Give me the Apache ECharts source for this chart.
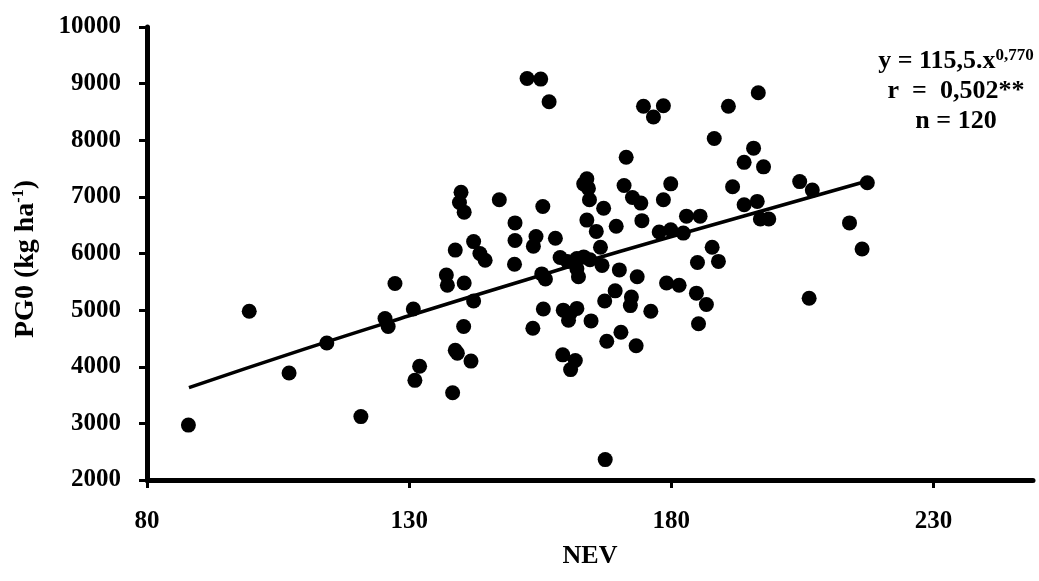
<!doctype html>
<html><head><meta charset="utf-8" />
<style>
  html,body,#app{margin:0;padding:0;width:1039px;height:581px;background:#ffffff}
</style>
</head><body><div id="app"></div>
<script src="https://cdn.jsdelivr.net/npm/echarts@6/dist/echarts.min.js"></script>
<script>
// NEV (x) and PG0 kg/ha (y), one entry per point
const nev = [
  152.5,155.1,156.7,174.7,178.5,176.6,196.6,190.9,188.2,195.7,
  193.9,197.6,171.4,171.0,179.9,191.7,204.5,206.9,217.4,214.0,
  216.4,193.9,196.4,197.0,198.6,206.3,163.9,163.3,164.2,164.4,
  167.1,163.9,165.7,169.5,166.5,172.6,174.2,178.5,174.4,182.9,
  185.5,177.7,179.9,182.3,187.8,139.9,139.6,140.5,147.2,155.5,
  150.2,150.2,142.3,154.2,153.7,157.9,138.8,143.5,144.5,150.1,
  158.8,160.2,162.0,163.3,164.5,162.0,162.3,166.8,155.3,156.0,
  137.1,137.3,140.5,142.3,130.8,155.6,159.4,162.0,160.7,160.4,
  167.3,170.1,173.5,185.0,189.0,179.1,181.5,184.8,186.7,169.3,
  172.4,172.2,176.1,185.2,153.6,164.7,170.4,167.7,173.3,159.3,
  161.7,160.8,167.4,140.4,138.8,139.2,141.8,138.3,87.9,99.5,
  107.1,114.3,120.8,125.4,126.0,127.3,132.0,131.1
];
const pg0 = [
  9090,9080,8680,8600,8610,8410,8840,8600,8030,7860,
  7610,7530,7700,7200,7230,7180,7270,7120,7250,6540,
  6080,6860,6920,6610,6610,5210,7320,7230,7150,6950,
  6800,6590,6390,6480,6110,6990,6890,6950,6580,6660,
  6660,6380,6420,6360,6110,7080,6900,6730,6950,6830,
  6540,6230,6210,6300,6130,6270,6060,6000,5880,5810,
  5930,5860,5910,5940,5890,5730,5590,5790,5640,5550,
  5620,5440,5480,5160,5020,5020,5000,5030,4940,4820,
  5160,5710,5590,5840,5860,5480,5440,5300,5100,5340,
  5230,5080,4980,4760,4680,4810,4610,4450,4370,4210,
  4110,3950,2360,4710,4290,4240,4100,3540,2970,4980,
  3890,4420,3120,4850,4710,5470,4010,3760
];
// fitted power curve
const trendX = [88, 110, 130, 150, 170, 190, 217.4];
const trendY = [3630, 4310, 4900, 5470, 6030, 6560, 7280];
const xTicks = [80, 130, 180, 230];

const font = 'Liberation Serif, Times New Roman, serif';
const chart = echarts.init(document.getElementById('app'));
const axisLine = { lineStyle: { color: '#000', width: 5 } };
const axisTick = { lineStyle: { color: '#000', width: 3 }, length: 8 };
const labelStyle = { color: '#000', fontFamily: font, fontWeight: 'bold', fontSize: 25 };
chart.setOption({
  animation: false,
  backgroundColor: '#ffffff',
  grid: { left: 147, right: 6, top: 27, bottom: 101 },
  xAxis: {
    type: 'value', min: 80, max: 249,
    name: 'NEV', nameLocation: 'middle', nameGap: 63,
    nameTextStyle: { color: '#000', fontFamily: font, fontWeight: 'bold', fontSize: 26 },
    axisLine: axisLine,
    axisTick: Object.assign({ customValues: xTicks }, axisTick),
    axisLabel: Object.assign({ customValues: xTicks, margin: 29, formatter: v => String(v) }, labelStyle),
    splitLine: { show: false }
  },
  yAxis: {
    type: 'value', min: 2000, max: 10000, interval: 1000,
    axisLine: axisLine,
    axisTick: axisTick,
    axisLabel: Object.assign({ margin: 26, formatter: v => String(v) }, labelStyle),
    splitLine: { show: false }
  },
  graphic: [
    {
      type: 'text', x: 26, y: 259, rotation: Math.PI / 2,
      style: {
        text: '{a|PG0 (kg ha}{s|-1}{a|)}', align: 'center', verticalAlign: 'middle',
        rich: {
          a: { fontFamily: font, fontWeight: 'bold', fontSize: 28, lineHeight: 30, fill: '#000' },
          s: { fontFamily: font, fontWeight: 'bold', fontSize: 16, lineHeight: 30, verticalAlign: 'top', fill: '#000' }
        }
      }
    },
    {
      type: 'text', x: 956, y: 61,
      style: {
        text: '{m|y = 115,5.x}{s|0,770}', align: 'center', verticalAlign: 'middle',
        rich: {
          m: { fontFamily: font, fontWeight: 'bold', fontSize: 26, lineHeight: 28, fill: '#000' },
          s: { fontFamily: font, fontWeight: 'bold', fontSize: 17, lineHeight: 28, verticalAlign: 'top', fill: '#000' }
        }
      }
    },
    {
      type: 'text', x: 956, y: 91,
      style: { text: 'r  =  0,502**', align: 'center', verticalAlign: 'middle',
        font: 'bold 26px ' + font, fill: '#000' }
    },
    {
      type: 'text', x: 956, y: 121,
      style: { text: 'n = 120', align: 'center', verticalAlign: 'middle',
        font: 'bold 26px ' + font, fill: '#000' }
    }
  ],
  series: [
    {
      type: 'line', data: trendX.map((x, i) => [x, trendY[i]]),
      symbol: 'none', smooth: true, lineStyle: { color: '#000', width: 3.5 }, z: 2
    },
    {
      type: 'scatter', data: nev.map((x, i) => [x, pg0[i]]),
      symbol: 'circle', symbolSize: 15, itemStyle: { color: '#000', opacity: 1 }, z: 3
    }
  ]
});
</script></body></html>
